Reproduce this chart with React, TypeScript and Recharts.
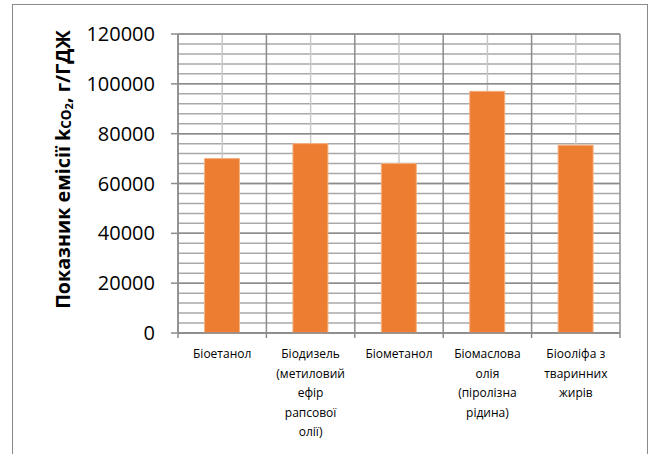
import React from "react";
import { BarChart, Bar, XAxis, YAxis, CartesianGrid, Label } from "recharts";

// Emission index per biofuel type, g/GJ
const categories = [
  "Біоетанол",
  "Біодизель (метиловий ефір рапсової олії)",
  "Біометанол",
  "Біомаслова олія (піролізна рідина)",
  "Біооліфа з тваринних жирів",
];
const emissionValues = [70000, 76000, 68000, 97000, 75400];
const categoryLabelLines = [
  ["Біоетанол"],
  ["Біодизель", "(метиловий", "ефір", "рапсової", "олії)"],
  ["Біометанол"],
  ["Біомаслова", "олія", "(піролізна", "рідина)"],
  ["Біооліфа з", "тваринних", "жирів"],
];
const majorTicks = [0, 20000, 40000, 60000, 80000, 100000, 120000];
const minorTicks = Array.from({ length: 31 }, (_, i) => i * 4000);

const data = categories.map((name, i) => ({ name, value: emissionValues[i] }));

const FONT = "'Open Sans', 'Noto Sans', sans-serif";
const AXIS_GREY = "#8c8c8c";

// band edges / centres of the category scale
const bandEdges = (xAxis: any, offset: any) => {
  const s = xAxis && xAxis.scale;
  if (typeof s === "function" && typeof s.bandwidth === "function") {
    const bw = s.bandwidth();
    const starts = categories.map((c) => s(c));
    return { starts, bw };
  }
  const bw = offset.width / categories.length;
  return { starts: categories.map((_, i) => offset.left + i * bw), bw };
};

const yPos = (yAxis: any, offset: any, v: number) => {
  const s = yAxis && yAxis.scale;
  if (typeof s === "function") return s(v);
  return offset.top + offset.height * (1 - v / 120000);
};

const boundaryGen = ({ xAxis, offset }: any) => {
  const { starts, bw } = bandEdges(xAxis, offset);
  return [...starts, starts[starts.length - 1] + bw];
};
const centreGen = ({ xAxis, offset }: any) => {
  const { starts, bw } = bandEdges(xAxis, offset);
  return starts.map((s: number) => s + bw / 2);
};
const minorGen = ({ yAxis, offset }: any) => minorTicks.map((v) => yPos(yAxis, offset, v));
const majorGen = ({ yAxis, offset }: any) => majorTicks.map((v) => yPos(yAxis, offset, v));

const CategoryTick = (props: any) => {
  const { x, y, index, width, visibleTicksCount } = props;
  const lines = categoryLabelLines[index] || [];
  const half = width / (visibleTicksCount || categories.length) / 2;
  const axisY = y - 8;
  return (
    <g>
      <line x1={x - half} x2={x - half} y1={axisY} y2={axisY + 5} stroke={AXIS_GREY} strokeWidth={1.5} />
      {index === categories.length - 1 && (
        <line x1={x + half} x2={x + half} y1={axisY} y2={axisY + 5} stroke={AXIS_GREY} strokeWidth={1.5} />
      )}
      {lines.map((line, i) => (
        <text
          key={i}
          x={x}
          y={axisY + 25 + i * 19.5}
          textAnchor="middle"
          fontFamily={FONT}
          fontSize={12}
          fill="#000"
        >
          {line}
        </text>
      ))}
    </g>
  );
};

const YTitle = (props: any) => {
  const vb = props.viewBox || { x: 0, y: 0, width: 0, height: 0 };
  const cx = 62;
  const cy = vb.y + vb.height / 2 - 14;
  return (
    <text
      x={cx}
      y={cy}
      transform={`rotate(-90 ${cx} ${cy})`}
      textAnchor="middle"
      dominantBaseline="central"
      fontFamily={FONT}
      fontWeight="bold"
      fontSize={19.7}
      fill="#000"
    >
      <tspan>Показник емісії k</tspan>
      <tspan fontSize={13.5} dy={4}>CO</tspan>
      <tspan fontSize={11} dy={2}>2</tspan>
      <tspan dy={-6}>, г/ГДЖ</tspan>
    </text>
  );
};

export default function App() {
  return (
    <div style={{ position: "absolute", left: 0, top: 0, width: 651, height: 454, background: "#fff", overflow: "hidden" }}>
      <div
        style={{
          position: "absolute",
          left: 12,
          top: 4,
          width: 636,
          height: 470,
          border: "1px solid #8a8a8a",
          boxSizing: "border-box",
        }}
      />
      <div style={{ position: "absolute", left: 0, top: 0 }}>
        <BarChart
          width={651}
          height={454}
          data={data}
          margin={{ top: 34, right: 31, bottom: 0, left: 0 }}
          barCategoryGap="30%"
        >
          <XAxis
            dataKey="name"
            height={121}
            axisLine={{ stroke: AXIS_GREY, strokeWidth: 1.5 }}
            tickLine={false}
            tickSize={0}
            tickMargin={8}
            tick={<CategoryTick />}
            interval={0}
          />
          <YAxis
            domain={[0, 120000]}
            ticks={majorTicks}
            width={178}
            interval={0}
            axisLine={{ stroke: AXIS_GREY, strokeWidth: 1.5 }}
            tickLine={{ stroke: AXIS_GREY, strokeWidth: 1.5 }}
            tickSize={7}
            tickMargin={16}
            tick={{ fontFamily: FONT, fontSize: 20, fill: "#000" }}
          >
            <Label content={<YTitle />} />
          </YAxis>
          <CartesianGrid
            vertical={false}
            horizontalCoordinatesGenerator={minorGen}
            stroke="#a9a9a9"
            strokeWidth={1.5}
          />
          <CartesianGrid
            horizontal={false}
            verticalCoordinatesGenerator={centreGen}
            stroke="#c8c8c8"
            strokeWidth={1.5}
          />
          <CartesianGrid
            horizontalCoordinatesGenerator={majorGen}
            verticalCoordinatesGenerator={boundaryGen}
            stroke={AXIS_GREY}
            strokeWidth={1.5}
          />
          <Bar
            dataKey="value"
            fill="#ED7D31"
            stroke="#F4B183"
            strokeWidth={1}
            isAnimationActive={false}
          />
        </BarChart>
      </div>
    </div>
  );
}
